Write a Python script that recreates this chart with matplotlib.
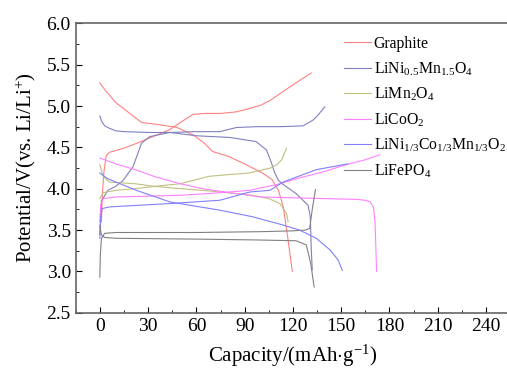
import numpy as np
import matplotlib
matplotlib.use('Agg')
import matplotlib.pyplot as plt
from matplotlib.ticker import MultipleLocator

plt.rcParams['font.family'] = ['Liberation Serif', 'DejaVu Serif']
plt.rcParams['mathtext.fontset'] = 'custom'
plt.rcParams['mathtext.rm'] = 'Liberation Serif'
plt.rcParams['mathtext.it'] = 'Liberation Serif:italic'
plt.rcParams['mathtext.default'] = 'rm'

# Graphite
gr_chg_x = [1.0, 1.5, 2.5, 4, 6, 15, 23, 33, 43, 50, 58, 65, 75, 85, 93, 100, 106, 112, 118, 125, 131.4]
gr_chg_y = [3.60, 3.90, 4.20, 4.40, 4.44, 4.49, 4.55, 4.63, 4.71, 4.80, 4.90, 4.91, 4.91, 4.93, 4.97, 5.01, 5.07, 5.15, 5.23, 5.32, 5.40]
gr_dis_x = [0, 3, 10, 18, 26, 35, 48, 58, 65, 70, 80, 90, 101, 107, 111, 114, 117, 119.6]
gr_dis_y = [5.28, 5.20, 5.04, 4.92, 4.80, 4.78, 4.74, 4.65, 4.55, 4.45, 4.39, 4.30, 4.19, 4.11, 3.98, 3.78, 3.38, 3.00]

# LiNi0.5Mn1.5O4
lnmo_chg_x = [0, 1, 5, 10, 14.5, 20.7, 25.9, 31, 43.5, 60, 74.5, 84.9, 97.3, 111.8, 126.3, 132.5, 136, 139.8]
lnmo_chg_y = [3.45, 3.85, 3.98, 4.03, 4.10, 4.27, 4.55, 4.63, 4.68, 4.69, 4.69, 4.74, 4.75, 4.75, 4.76, 4.83, 4.90, 4.99]
lnmo_dis_x = [0, 1, 3, 6, 10, 15, 30, 43.5, 60, 80.7, 97, 103.5, 106.7, 108.5, 111, 114, 122, 129.4, 130.8, 131.4, 132]
lnmo_dis_y = [4.88, 4.82, 4.76, 4.73, 4.70, 4.69, 4.68, 4.68, 4.64, 4.62, 4.57, 4.47, 4.31, 4.20, 4.10, 4.05, 3.94, 3.80, 3.66, 3.26, 3.02]

# LiMn2O4
lmo_chg_x = [0, 2, 10, 22, 35, 50, 60, 68, 80, 93, 106, 110, 113, 116]
lmo_chg_y = [3.88, 3.95, 3.98, 4.00, 4.03, 4.06, 4.11, 4.15, 4.17, 4.19, 4.25, 4.29, 4.35, 4.49]
lmo_dis_x = [0, 2, 6, 22, 33, 50, 64, 80, 95, 105, 112, 116, 117]
lmo_dis_y = [4.29, 4.15, 4.08, 4.06, 4.03, 4.00, 3.98, 3.95, 3.92, 3.88, 3.82, 3.70, 3.60]

# LiCoO2
lco_chg_x = [0, 0.5, 2, 10, 30, 50, 74, 93, 110, 124, 140, 153, 165, 174]
lco_chg_y = [3.60, 3.80, 3.88, 3.90, 3.91, 3.92, 3.95, 3.98, 4.05, 4.13, 4.21, 4.29, 4.35, 4.41]
lco_dis_x = [0, 10, 22, 35, 50, 64, 85, 100, 120, 140, 160, 165, 168, 170, 171, 171.5, 172]
lco_dis_y = [4.37, 4.30, 4.23, 4.14, 4.06, 4.00, 3.94, 3.90, 3.89, 3.88, 3.87, 3.86, 3.84, 3.78, 3.60, 3.30, 3.00]

# LiNi1/3Co1/3Mn1/3O2
ncm_chg_x = [0, 0.5, 1.5, 6.2, 43.5, 74.5, 93.2, 105.6, 113.9, 134.5, 154]
ncm_chg_y = [3.40, 3.65, 3.76, 3.78, 3.82, 3.86, 3.96, 3.98, 4.08, 4.23, 4.30]
ncm_dis_x = [0, 5, 22.7, 43.5, 74.5, 95, 113.9, 124, 134.5, 143, 148, 150.7]
ncm_dis_y = [4.19, 4.12, 3.98, 3.84, 3.74, 3.66, 3.56, 3.50, 3.40, 3.26, 3.14, 3.01]

# LiFePO4
lfp_chg_x = [0, 0.3, 1, 3, 10, 60, 100, 120, 128, 130.4, 132, 134]
lfp_chg_y = [2.93, 3.20, 3.40, 3.46, 3.47, 3.47, 3.48, 3.49, 3.50, 3.52, 3.75, 3.99]
lfp_dis_x = [0, 1, 3, 10, 60, 97, 122, 128.3, 131, 133.2]
lfp_dis_y = [3.55, 3.44, 3.41, 3.40, 3.39, 3.38, 3.37, 3.32, 3.10, 2.81]

series = [
    ('Graphite', '#ff8080', gr_chg_x, gr_chg_y, gr_dis_x, gr_dis_y),
    ('LiNi$_{0.5}$Mn$_{1.5}$O$_4$', '#8080c0', lnmo_chg_x, lnmo_chg_y, lnmo_dis_x, lnmo_dis_y),
    ('LiMn$_2$O$_4$', '#c0c080', lmo_chg_x, lmo_chg_y, lmo_dis_x, lmo_dis_y),
    ('LiCoO$_2$', '#ff80ff', lco_chg_x, lco_chg_y, lco_dis_x, lco_dis_y),
    ('LiNi$_{1/3}$Co$_{1/3}$Mn$_{1/3}$O$_2$', '#8080ff', ncm_chg_x, ncm_chg_y, ncm_dis_x, ncm_dis_y),
    ('LiFePO$_4$', '#808080', lfp_chg_x, lfp_chg_y, lfp_dis_x, lfp_dis_y),
]

fig = plt.figure(figsize=(5.07, 3.70), dpi=100)
ax = fig.add_axes([0.1493, 0.1549, 0.857, 0.782])

for name, c, cx, cy, dx, dy in series:
    ax.plot(cx, cy, color=c, lw=0.8, label=name)
    ax.plot(dx, dy, color=c, lw=0.8)

ax.set_xlim(-15, 255)
ax.set_ylim(2.5, 6.0)
ax.xaxis.set_major_locator(MultipleLocator(30))
ax.xaxis.set_minor_locator(MultipleLocator(15))
ax.yaxis.set_major_locator(MultipleLocator(0.5))
ax.yaxis.set_minor_locator(MultipleLocator(0.25))
ax.tick_params(which='both', direction='in', top=False, right=False, labelsize=14)
ax.tick_params(which='major', length=4)
ax.tick_params(which='minor', length=2)
ax.set_xticks(np.arange(0, 241, 30))
ax.yaxis.set_major_formatter(matplotlib.ticker.FormatStrFormatter('%.1f'))
for s in ax.spines.values():
    s.set_color('#666666')
    s.set_linewidth(1.2)

ax.set_xlabel('Capacity/(mAh$\\cdot$g$^{-1}$)', fontsize=15, labelpad=6)
ax.set_ylabel('Potential/V(vs. Li/Li$^{+}$)', fontsize=15, labelpad=6)

ax.legend(loc='upper left', bbox_to_anchor=(0.603, 0.978), frameon=False, fontsize=11.3,
          handlelength=1.7, handletextpad=0.2, labelspacing=0.52, borderaxespad=0)

fig.savefig('out.png', dpi=100)
